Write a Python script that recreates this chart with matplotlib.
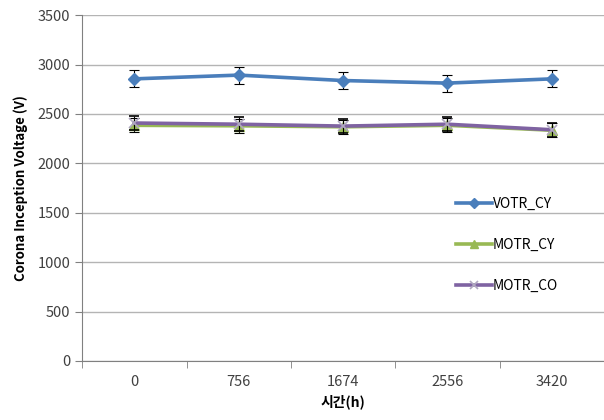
import numpy as np
import matplotlib.pyplot as plt

plt.rcParams['font.family'] = ['Noto Sans CJK KR', 'DejaVu Sans']

hours = ['0', '756', '1674', '2556', '3420']
votr_cy = [2855, 2893, 2838, 2812, 2855]
votr_cy_err = [85, 85, 85, 85, 85]
motr_cy = [2385, 2380, 2370, 2385, 2335]
motr_cy_err = [70, 70, 70, 70, 70]
motr_co = [2408, 2396, 2377, 2396, 2340]
motr_co_err = [70, 70, 70, 70, 70]

x = np.arange(len(hours))

fig = plt.figure(figsize=(6.04, 4.2), dpi=100)
ax = fig.add_axes([0.136, 0.1405, 0.864, 0.8235])

ax.set_ylim(0, 3500)
ax.set_xlim(-0.5, len(hours) - 0.5)
ax.set_yticks(np.arange(0, 3501, 500))
ax.yaxis.grid(True, color='#b4b4b4', linewidth=1.0)
ax.set_axisbelow(True)

ax.set_xticks(x)
ax.set_xticklabels(hours)
ax.set_xticks(np.arange(-0.5, len(hours)), minor=True)
ax.tick_params(axis='x', which='major', length=0, pad=10, labelsize=10.5, labelcolor='#404040')
ax.tick_params(axis='x', which='minor', length=5, color='#808080')
ax.tick_params(axis='y', length=5, color='#808080', labelsize=10.5, labelcolor='#404040')

for s in ['top', 'right']:
    ax.spines[s].set_visible(False)
for s in ['left', 'bottom']:
    ax.spines[s].set_color('#808080')

ax.errorbar(x, votr_cy, yerr=votr_cy_err, color='#4a7ebb', linewidth=2.6,
            marker='D', markersize=6, ecolor='black', elinewidth=0.8, capsize=3.5,
            capthick=0.8, label='VOTR_CY', zorder=3)
ax.errorbar(x, motr_cy, yerr=motr_cy_err, color='#98b954', linewidth=2.6,
            marker='^', markersize=7, ecolor='black', elinewidth=0.8, capsize=3.5,
            capthick=0.8, label='MOTR_CY', zorder=3)
ax.errorbar(x, motr_co, yerr=motr_co_err, color='#7f63a2', linewidth=2.6,
            marker='x', markersize=7, markeredgecolor='#b0a8c0', markeredgewidth=1.2,
            ecolor='black', elinewidth=0.8, capsize=3.5, capthick=0.8,
            label='MOTR_CO', zorder=4)

ax.set_ylabel('Corona Inception Voltage (V)', fontsize=9.5, fontweight='bold', labelpad=7)
ax.set_xlabel('시간(h)', fontsize=10, fontweight='bold', labelpad=4)

handles, labels = ax.get_legend_handles_labels()
handles = [h[0] for h in handles]
ax.legend(handles, labels, loc='upper left', bbox_to_anchor=(0.705, 0.49),
          frameon=False, fontsize=10, handlelength=2.6, handletextpad=0.1,
          labelspacing=1.95, borderaxespad=0, markerscale=0.8)

fig.savefig('out.png', dpi=100)
